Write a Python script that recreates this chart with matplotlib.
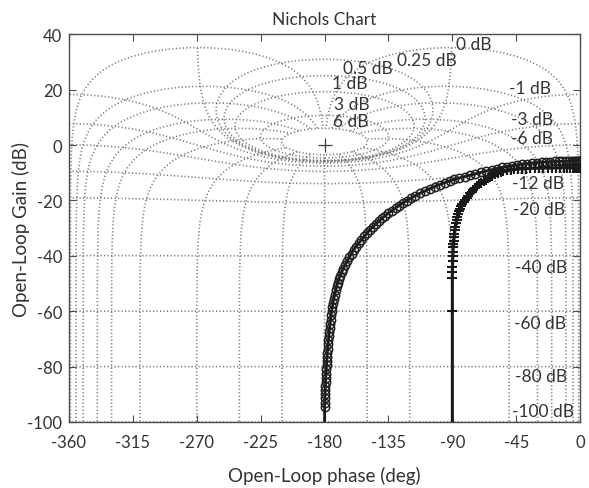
import numpy as np
import matplotlib
matplotlib.use('Agg')
import matplotlib.pyplot as plt

plt.rcParams['font.family'] = ['Lato', 'DejaVu Sans']
plt.rcParams['axes.unicode_minus'] = False

# ── Nichols grid definition (closed-loop gain / phase contours) ────────────
CL_GAINS_DB = [6, 3, 1, 0.5, 0.25, 0, -1, -3, -6, -12, -20, -40, -60, -80, -100]
CL_PHASES = [1, 5, 10, 20, 30, 50, 90, 120, 150, 180]

GAIN_LABELS = ['0 dB', '0.25 dB', '0.5 dB', '1 dB', '3 dB', '6 dB',
               '-1 dB', '-3 dB', '-6 dB', '-12 dB', '-20 dB',
               '-40 dB', '-60 dB', '-80 dB', '-100 dB']
LABEL_PHASE = [-87.4, -128.9, -167.0, -174.7, -173.3, -174.0,
               -50.0, -48.6, -48.6, -47.9, -47.2, -45.8, -46.5, -45.8, -47.9]
LABEL_GAIN = [36.3, 30.6, 27.7, 22.3, 14.7, 8.6,
              20.5, 9.3, 2.4, -13.8, -23.2, -44.1, -64.3, -83.4, -96.1]

# ── open-loop responses (phase deg, gain dB) ───────────────────────────────
phase_a = [-180.0, -179.9, -179.8, -179.7, -179.6, -179.5, -179.4, -179.25,
           -179.1, -178.95, -178.8, -178.6, -178.4, -178.2, -178.0, -177.75,
           -177.5, -177.25, -177.0, -176.7, -176.4, -176.05, -175.7, -175.35,
           -175.0, -174.5, -174.0, -173.4, -172.8, -172.1, -171.5, -170.7,
           -170.0, -169.0, -168.0, -166.8, -165.5, -164.0, -162.5, -161.0,
           -159.5, -157.8, -156.0, -154.0, -152.0, -150.0, -148.0, -146.0,
           -144.0, -141.8, -139.5, -137.3, -135.0, -132.5, -130.0, -127.5,
           -125.0, -122.0, -119.0, -116.0, -112.7, -109.4, -106.0, -102.5,
           -99.0, -95.5, -92.0, -88.5, -85.0, -81.2, -77.5, -73.8, -70.0,
           -66.0, -62.0, -58.5, -55.0, -51.5, -48.0, -44.5, -41.0, -37.5,
           -34.0, -30.5, -27.0, -24.0, -21.0, -18.0, -15.0, -12.5, -10.0,
           -8.0, -6.0, -4.5, -3.0, -2.0, -1.0, -0.5, 0.0]
gain_a = [-100.0, -94.5, -93.0, -91.5, -90.0, -88.5, -87.0, -85.5,
          -84.0, -82.5, -81.0, -79.5, -78.0, -76.5, -75.0, -73.5,
          -72.0, -70.5, -69.0, -67.5, -66.0, -64.5, -63.0, -61.5,
          -60.0, -58.5, -57.0, -55.5, -54.0, -52.5, -51.0, -49.7,
          -48.5, -47.2, -46.0, -44.6, -43.3, -41.9, -40.5, -39.2,
          -38.0, -36.7, -35.5, -34.2, -33.0, -31.8, -30.6, -29.6,
          -28.6, -27.5, -26.5, -25.5, -24.6, -23.7, -22.8, -21.9,
          -21.0, -20.1, -19.2, -18.3, -17.4, -16.6, -15.8, -15.0,
          -14.3, -13.6, -13.0, -12.4, -11.9, -11.4, -10.9, -10.4, -9.9,
          -9.4, -8.9, -8.5, -8.1, -7.8, -7.5, -7.2, -6.9, -6.7,
          -6.5, -6.35, -6.2, -6.1, -6.0, -5.95, -5.9, -5.85, -5.8,
          -5.78, -5.75, -5.72, -5.7, -5.7, -5.7, -5.7, -5.7]

phase_b = [-90.0, -90.0, -90.0, -89.95, -89.9, -89.8, -89.7, -89.55, -89.4,
           -89.2, -89.0, -88.75, -88.5, -88.2, -87.8, -87.4, -87.0, -86.5,
           -86.0, -85.3, -84.5, -83.8, -83.0, -82.0, -81.0, -80.0, -79.0,
           -77.8, -76.5, -75.3, -74.0, -72.5, -71.0, -69.5, -68.0, -66.5,
           -65.0, -63.5, -62.0, -60.0, -58.0, -56.0, -54.0, -51.5, -49.0,
           -46.5, -44.0, -41.0, -38.0, -35.0, -32.0, -29.0, -26.0, -23.0,
           -20.0, -17.0, -14.0, -11.5, -9.0, -7.0, -5.0, -3.5, -2.0, -1.0, 0.0]
gain_b = [-100.0, -60.0, -48.0, -46.0, -44.0, -42.0, -40.0, -38.5, -37.0,
          -35.7, -34.5, -33.2, -32.0, -30.7, -29.5, -28.2, -27.0, -26.0,
          -25.0, -24.0, -23.0, -22.1, -21.3, -20.5, -19.7, -19.0, -18.3,
          -17.5, -16.8, -16.1, -15.5, -14.8, -14.2, -13.6, -13.0, -12.5,
          -12.0, -11.5, -11.1, -10.6, -10.2, -9.8, -9.5, -9.2, -9.0,
          -8.8, -8.7, -8.6, -8.5, -8.45, -8.4, -8.35, -8.3, -8.3,
          -8.3, -8.25, -8.2, -8.2, -8.2, -8.2, -8.2, -8.2, -8.2, -8.2, -8.2]

GRID_COL = '0.48'
GRID_LS = (0, (0.7, 1.4))
GRID_LW = 1.2
TEXT_COL = '0.2'


def _wrap(deg):
    return np.mod(deg, 360.0) - 360.0


fig = plt.figure(figsize=(5.89, 4.89), dpi=100)
ax = fig.add_axes([0.117, 0.135, 0.868, 0.793])

# closed-loop gain contours
for gdb in CL_GAINS_DB:
    m = 10 ** (gdb / 20.0)
    if m == 1.0:
        phi = np.linspace(np.deg2rad(1.0), np.deg2rad(359.0), 3000)
    else:
        phi = np.linspace(-np.pi, np.pi, 3000)
    G = m / (np.exp(1j * phi) - m)
    ph = _wrap(np.angle(G, deg=True))
    gn = 20 * np.log10(np.abs(G))
    if m < 1.0:
        order = np.argsort(ph)
        ph, gn = ph[order], gn[order]
    ax.plot(ph, gn, color=GRID_COL, ls=GRID_LS, lw=GRID_LW, zorder=1)

# closed-loop phase contours, closed-loop gain up to 6 dB
mags = np.sort(np.r_[np.logspace(-6, np.log10(2.0), 4000),
                     np.linspace(0.3, 2.0, 3000)])
for p in CL_PHASES:
    for th in ({-p, p} if p != 180 else {-p}):
        T = mags * np.exp(1j * np.deg2rad(th))
        G = T / (1 - T)
        ph = _wrap(np.angle(G, deg=True))
        gn = 20 * np.log10(np.abs(G))
        ax.plot(ph, gn, color=GRID_COL, ls=GRID_LS, lw=GRID_LW, zorder=1)

ax.plot([-180], [0], marker='+', ms=10, mew=0.9, color='0.25', zorder=2)

for txt, x, y in zip(GAIN_LABELS, LABEL_PHASE, LABEL_GAIN):
    ax.text(x, y, txt, ha='left', va='center', fontsize=12.5,
            color=TEXT_COL, zorder=3)

# open-loop curves
ax.plot(phase_a, gain_a, color='0.1', lw=2.0, marker='o', ms=6,
        mfc='none', mec='0.12', mew=1.1, markevery=slice(1, None), zorder=4)
ax.plot(phase_b, gain_b, color='0.1', lw=2.2, marker='+', ms=7,
        mec='0.1', mew=1.5, markevery=slice(1, None), zorder=4)

ax.set_xlim(-360, 0)
ax.set_ylim(-100, 40)
ax.set_xticks(np.arange(-360, 1, 45))
ax.set_yticks(np.arange(-100, 41, 20))
ax.tick_params(direction='in', top=True, right=True, length=5,
               labelsize=12, labelcolor=TEXT_COL, color='0.3')
ax.tick_params(axis='x', pad=9)
ax.tick_params(axis='y', pad=5)
for sp in ax.spines.values():
    sp.set_edgecolor('0.3')
    sp.set_linewidth(1.0)

ax.set_title('Nichols Chart', fontsize=12.5, color=TEXT_COL, pad=7)
ax.set_xlabel('Open-Loop phase (deg)', fontsize=13.5, color=TEXT_COL, labelpad=11)
ax.set_ylabel('Open-Loop Gain (dB)', fontsize=13.5, color=TEXT_COL)
ax.yaxis.set_label_coords(-0.076, 0.5)

fig.savefig('out.png', dpi=100)
